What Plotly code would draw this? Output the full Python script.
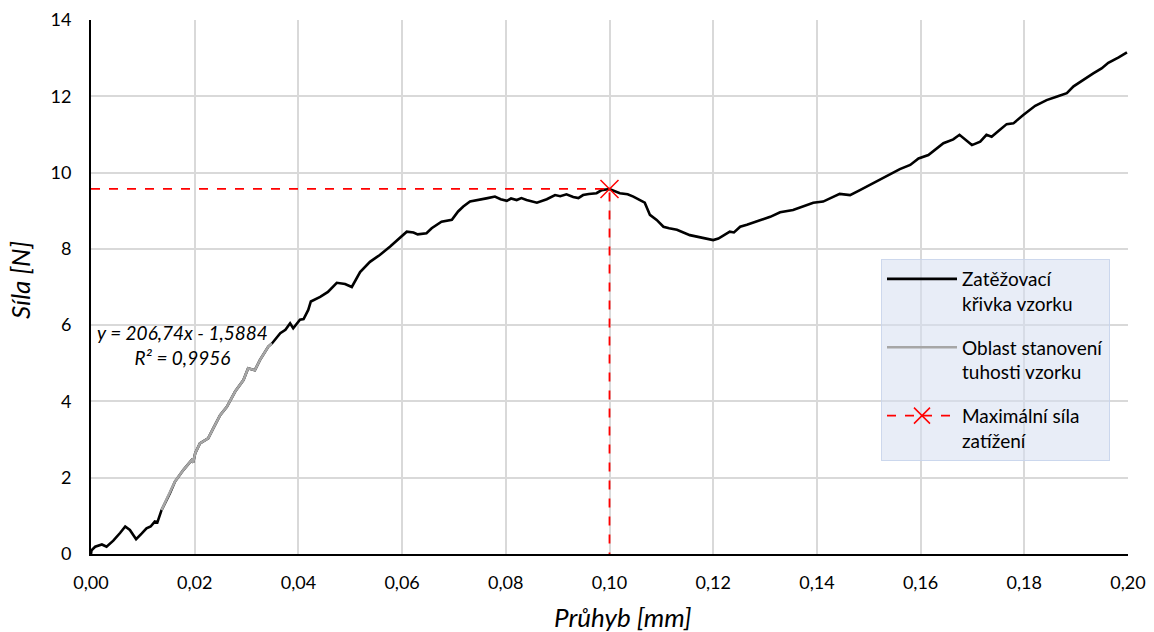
import plotly.graph_objects as go

# Load–deflection record of the specimen (deflection in mm, force in N)
deflection = [0.0000, 0.0001, 0.0008, 0.0021, 0.0030, 0.0043, 0.0056, 0.0066, 0.0075, 0.0087,
              0.0098, 0.0107, 0.0115, 0.0123, 0.0128, 0.0133, 0.0136, 0.0152, 0.0162, 0.0178,
              0.0194, 0.0197, 0.0201, 0.0210, 0.0226, 0.0236, 0.0249, 0.0262, 0.0278, 0.0294,
              0.0303, 0.0316, 0.0326, 0.0342, 0.0349, 0.0365, 0.0375, 0.0384, 0.0390, 0.0403,
              0.0410, 0.0419, 0.0424, 0.0442, 0.0457, 0.0474, 0.0490, 0.0503, 0.0519, 0.0538,
              0.0557, 0.0577, 0.0596, 0.0609, 0.0622, 0.0630, 0.0647, 0.0657, 0.0676, 0.0696,
              0.0708, 0.0718, 0.0731, 0.0750, 0.0765, 0.0779, 0.0790, 0.0802, 0.0810, 0.0821,
              0.0830, 0.0840, 0.0850, 0.0860, 0.0879, 0.0895, 0.0905, 0.0917, 0.0930, 0.0940,
              0.0949, 0.0960, 0.0975, 0.0985, 0.1000, 0.1020, 0.1035, 0.1046, 0.1068, 0.1078,
              0.1091, 0.1104, 0.1115, 0.1130, 0.1155, 0.1181, 0.1200, 0.1210, 0.1219, 0.1232,
              0.1240, 0.1252, 0.1265, 0.1281, 0.1295, 0.1310, 0.1329, 0.1354, 0.1393, 0.1412,
              0.1444, 0.1464, 0.1483, 0.1509, 0.1522, 0.1541, 0.1560, 0.1580, 0.1596, 0.1615,
              0.1631, 0.1644, 0.1663, 0.1675, 0.1699, 0.1715, 0.1727, 0.1737, 0.1753, 0.1766,
              0.1779, 0.1798, 0.1821, 0.1843, 0.1862, 0.1882, 0.1895, 0.1917, 0.1933, 0.1949,
              0.1962, 0.1982, 0.1998]
force = [0.00, 0.10, 0.19, 0.25, 0.19, 0.35, 0.55, 0.72, 0.63, 0.39,
         0.54, 0.67, 0.72, 0.85, 0.83, 1.02, 1.15, 1.59, 1.90, 2.20,
         2.46, 2.40, 2.64, 2.90, 3.03, 3.30, 3.64, 3.86, 4.26, 4.56,
         4.87, 4.82, 5.09, 5.44, 5.52, 5.79, 5.88, 6.05, 5.92, 6.14,
         6.16, 6.40, 6.62, 6.74, 6.87, 7.11, 7.08, 7.00, 7.39, 7.66,
         7.84, 8.06, 8.28, 8.45, 8.43, 8.38, 8.41, 8.54, 8.71, 8.76,
         8.98, 9.11, 9.24, 9.30, 9.33, 9.37, 9.30, 9.26, 9.32, 9.28,
         9.33, 9.28, 9.25, 9.21, 9.30, 9.41, 9.38, 9.43, 9.36, 9.33,
         9.41, 9.44, 9.46, 9.54, 9.57, 9.46, 9.43, 9.37, 9.21, 8.89,
         8.76, 8.58, 8.54, 8.50, 8.36, 8.28, 8.23, 8.27, 8.34, 8.45,
         8.43, 8.58, 8.63, 8.71, 8.76, 8.84, 8.96, 9.02, 9.21, 9.24,
         9.44, 9.41, 9.54, 9.72, 9.81, 9.94, 10.09, 10.20, 10.37, 10.46,
         10.64, 10.77, 10.87, 10.99, 10.72, 10.81, 10.99, 10.94, 11.12, 11.27,
         11.29, 11.51, 11.75, 11.90, 11.99, 12.08, 12.26, 12.47, 12.60, 12.73,
         12.88, 13.02, 13.15]

# Range used for the stiffness fit
fit_from, fit_to = 0.0136, 0.0349
fit_x = [x for x in deflection if fit_from <= x <= fit_to]
fit_y = [f for x, f in zip(deflection, force) if fit_from <= x <= fit_to]

# Maximum load
max_x, max_y = 0.1000, 9.57

fit_label = "y = 206,74x - 1,5884"
r2_label = "R² = 0,9956"

x_ticks = [0.00, 0.02, 0.04, 0.06, 0.08, 0.10, 0.12, 0.14, 0.16, 0.18, 0.20]
y_ticks = [0, 2, 4, 6, 8, 10, 12, 14]

FONT = "Lato"
RED = "#ff0000"

# Plot area in pixels
L, R, T, B = 91, 1128, 20, 554
W, H = R - L, B - T

fig = go.Figure()
fig.add_trace(go.Scatter(
    x=deflection, y=force, mode="lines",
    line=dict(color="#000000", width=2.6),
    name="Zatěžovací<br>křivka vzorku", legendgroup="a"))
fig.add_trace(go.Scatter(
    x=fit_x, y=fit_y, mode="lines",
    line=dict(color="#a6a6a6", width=2.6),
    name="Oblast stanovení<br>tuhosti vzorku", legendgroup="b"))
# Guide lines to the maximum load
fig.add_trace(go.Scatter(
    x=[0, max_x, max_x], y=[max_y, max_y, 0], mode="lines",
    line=dict(color=RED, width=1.8, dash="dash"),
    showlegend=False, hoverinfo="skip"))
# Maximum-load point (carries the legend entry)
fig.add_trace(go.Scatter(
    x=[max_x], y=[max_y], mode="lines+markers",
    line=dict(color=RED, width=1.8, dash="dash"),
    marker=dict(symbol="x-thin", size=18, color=RED,
                line=dict(color=RED, width=1.5)),
    name="Maximální síla<br>zatížení", legendgroup="c"))

# Regression label
fig.add_annotation(
    xref="paper", yref="paper", x=(182 - L) / W, y=(B - 345) / H,
    text=f"<i>{fit_label}</i><br><i>{r2_label}</i>", showarrow=False,
    align="center", xanchor="center", yanchor="middle",
    font=dict(family=FONT, size=19, color="#000000"))

# Axis titles
fig.add_annotation(
    xref="paper", yref="paper", x=(623 - L) / W, y=(B - 617) / H,
    text="<i>Průhyb [mm]</i>", showarrow=False,
    xanchor="center", yanchor="middle",
    font=dict(family=FONT, size=26, color="#000000"))
fig.add_annotation(
    xref="paper", yref="paper", x=(20 - L) / W, y=(B - 280) / H,
    text="<i>Síla [N]</i>", showarrow=False, textangle=-90,
    xanchor="center", yanchor="middle",
    font=dict(family=FONT, size=26, color="#000000"))

fig.update_layout(
    width=1154, height=632,
    margin=dict(l=L, r=1154 - R, t=T, b=632 - B, autoexpand=False),
    paper_bgcolor="white", plot_bgcolor="white",
    separators=", ",
    font=dict(family=FONT, size=18, color="#000000"),
    showlegend=True,
    legend=dict(
        x=(881 - L) / W, y=(B - 259) / H, xanchor="left", yanchor="top",
        bgcolor="rgba(214,223,240,0.55)", bordercolor="rgba(200,212,235,0.9)",
        borderwidth=1, font=dict(family=FONT, size=19, color="#000000"),
        itemwidth=70, tracegroupgap=16, valign="top"),
)
fig.update_xaxes(
    range=[0, 0.2], tickvals=x_ticks, tickformat=".2f",
    showgrid=True, gridcolor="#d9d9d9", gridwidth=1.5,
    showline=True, linecolor="#000000", linewidth=1.5, zeroline=False,
    ticks="", ticklabelstandoff=12, automargin=False)
fig.update_yaxes(
    range=[0, 14], tickvals=y_ticks,
    showgrid=True, gridcolor="#d9d9d9", gridwidth=1.5,
    showline=True, linecolor="#000000", linewidth=2, zeroline=False,
    ticks="", ticklabelstandoff=14, automargin=False)

fig.write_html("out.html")
